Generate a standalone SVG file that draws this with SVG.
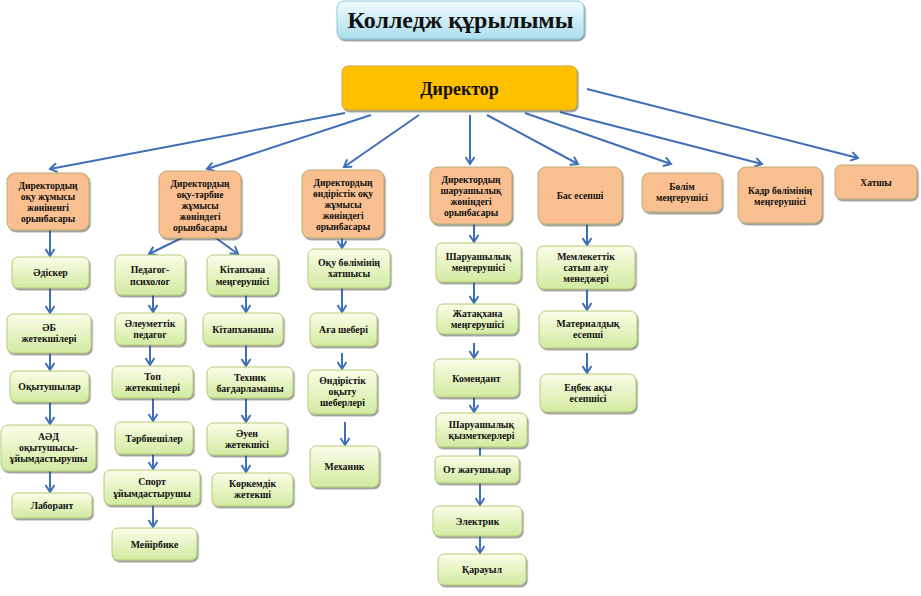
<svg xmlns="http://www.w3.org/2000/svg" width="921" height="596" viewBox="0 0 921 596">
<defs>
<linearGradient id="gGreen" x1="0" y1="0" x2="0" y2="1">
<stop offset="0" stop-color="#fbfde8"/>
<stop offset="1" stop-color="#d2eaa0"/>
</linearGradient>
<linearGradient id="gBlue" x1="0" y1="0" x2="0" y2="1">
<stop offset="0" stop-color="#f2fbfd"/>
<stop offset="1" stop-color="#abdeee"/>
</linearGradient>
<filter id="sh" x="-10%" y="-10%" width="130%" height="140%">
<feDropShadow dx="1.2" dy="1.8" stdDeviation="0.5" flood-color="#444" flood-opacity="0.55"/>
</filter>
<marker id="ah" markerWidth="12" markerHeight="12" refX="8" refY="5" orient="auto" markerUnits="userSpaceOnUse">
<path d="M1,0.5 L8,5 L1,9.5" fill="none" stroke="#3e6fb6" stroke-width="2"/>
</marker>
<style>
.g{fill:url(#gGreen);stroke:#b4ca78;stroke-width:1;filter:url(#sh)}
.o{fill:#f9bf90;stroke:#b9ae74;stroke-width:1;filter:url(#sh)}
.t{font-family:"Liberation Serif","DejaVu Serif",serif;font-weight:bold;font-size:9.8px;fill:#111;text-anchor:middle}
.s{font-family:"Liberation Serif","DejaVu Serif",serif;font-weight:bold;font-size:9.5px;fill:#111;text-anchor:middle}
#conn line{stroke:#3e6fb6;stroke-width:2;marker-end:url(#ah)}
</style>
</defs>
<rect width="921" height="596" fill="#ffffff"/>

<g id="conn">
<line x1="345" y1="113" x2="50" y2="169"/>
<line x1="371" y1="115" x2="207" y2="169"/>
<line x1="419" y1="115" x2="344" y2="167"/>
<line x1="470" y1="115" x2="470" y2="164"/>
<line x1="487" y1="115" x2="578" y2="164"/>
<line x1="525" y1="113" x2="671" y2="164"/>
<line x1="560" y1="112" x2="762" y2="164"/>
<line x1="587" y1="89" x2="858" y2="158"/>

<line x1="50" y1="230" x2="50" y2="256"/>
<line x1="50" y1="288" x2="50" y2="313"/>
<line x1="50" y1="353" x2="50" y2="370"/>
<line x1="50" y1="402" x2="50" y2="424"/>
<line x1="50" y1="471" x2="50" y2="492"/>

<line x1="200" y1="229" x2="149" y2="254"/>
<line x1="202" y1="228" x2="238" y2="254"/>
<line x1="153" y1="295" x2="153" y2="312"/>
<line x1="150" y1="345" x2="150" y2="365"/>
<line x1="153" y1="398" x2="153" y2="421"/>
<line x1="153" y1="454" x2="153" y2="469"/>
<line x1="153" y1="505" x2="153" y2="527"/>

<line x1="246" y1="295" x2="246" y2="312"/>
<line x1="246" y1="345" x2="246" y2="366"/>
<line x1="246" y1="398" x2="246" y2="422"/>
<line x1="246" y1="455" x2="246" y2="472"/>

<line x1="342" y1="234" x2="342" y2="248"/>
<line x1="342" y1="288" x2="342" y2="312"/>
<line x1="342" y1="353" x2="342" y2="369"/>
<line x1="345" y1="422" x2="345" y2="445"/>

<line x1="474" y1="224" x2="474" y2="242"/>
<line x1="474" y1="282" x2="474" y2="303"/>
<line x1="474" y1="343" x2="474" y2="358"/>
<line x1="474" y1="397" x2="474" y2="412"/>
<line x1="480" y1="447" x2="480" y2="463"/>
<line x1="480" y1="483" x2="480" y2="505"/>
<line x1="480" y1="536" x2="480" y2="553"/>

<line x1="587" y1="224" x2="587" y2="245"/>
<line x1="587" y1="289" x2="587" y2="310"/>
<line x1="587" y1="353" x2="587" y2="373"/>
</g>

<g id="title">
<rect x="337" y="1" width="247" height="38" rx="7" fill="url(#gBlue)" stroke="#86c7dc" stroke-width="1" filter="url(#sh)"/>
<text x="460.5" y="28" font-family="Liberation Serif, serif" font-weight="bold" font-size="24" text-anchor="middle" fill="#111">Колледж құрылымы</text>
</g>

<g id="director">
<rect x="342" y="66" width="235" height="44" rx="6" fill="#ffc000" stroke="#c8a640" stroke-width="1" filter="url(#sh)"/>
<text x="459.5" y="95" font-family="Liberation Serif, serif" font-weight="bold" font-size="18" text-anchor="middle" fill="#111">Директор</text>
</g>

<g id="dep1"><rect class="o" x="7" y="173" width="82" height="57" rx="8"/>
<text class="s" x="48" y="189">Директордың</text><text class="s" x="48" y="200">оқу жұмысы</text><text class="s" x="48" y="211">жөніненгі</text><text class="s" x="48" y="222">орынбасары</text></g>

<g id="dep2"><rect class="o" x="159" y="171" width="82" height="67" rx="8"/>
<text class="s" x="200" y="187">Директордың</text><text class="s" x="200" y="198">оқу-тәрбие</text><text class="s" x="200" y="209">жұмысы</text><text class="s" x="200" y="220">жөніндегі</text><text class="s" x="200" y="231">орынбасары</text></g>

<g id="dep3"><rect class="o" x="302" y="170" width="82" height="68" rx="8"/>
<text class="s" x="343" y="186">Директордың</text><text class="s" x="343" y="197">өндірістік оқу</text><text class="s" x="343" y="208">жұмысы</text><text class="s" x="343" y="219">жөніндегі</text><text class="s" x="343" y="230">орынбасары</text></g>

<g id="dep4"><rect class="o" x="430" y="167" width="82" height="57" rx="8"/>
<text class="s" x="471" y="183">Директордың</text><text class="s" x="471" y="194">шаруашылық</text><text class="s" x="471" y="205">жөніндегі</text><text class="s" x="471" y="216">орынбасары</text></g>

<g id="dep5"><rect class="o" x="538" y="167" width="84" height="57" rx="8"/>
<text class="s" x="580" y="199">Бас есепші</text></g>

<g id="dep6"><rect class="o" x="642" y="173" width="80" height="39" rx="7"/>
<text class="s" x="682" y="190">Бөлім</text><text class="s" x="682" y="201">меңгерушісі</text></g>

<g id="dep7"><rect class="o" x="738" y="167" width="84" height="56" rx="8"/>
<text class="s" x="780" y="194">Кадр бөлімінің</text><text class="s" x="780" y="205">меңгерушісі</text></g>

<g id="dep8"><rect class="o" x="835" y="165" width="82" height="34" rx="6"/>
<text class="s" x="876" y="186">Хатшы</text></g>

<!-- column 1 -->
<g id="n_adisker"><rect class="g" x="12" y="257" width="77" height="31" rx="6"/><text class="t" x="50.5" y="276">Әдіскер</text></g>
<g id="n_ab"><rect class="g" x="7" y="314" width="84" height="39" rx="6"/><text class="t" x="49" y="331">ӘБ</text><text class="t" x="49" y="342">жетекшілері</text></g>
<g id="n_okytushylar"><rect class="g" x="10" y="371" width="79" height="31" rx="6"/><text class="t" x="49.5" y="390">Оқытушылар</text></g>
<g id="n_aad"><rect class="g" x="1" y="425" width="95" height="46" rx="7"/><text class="t" x="48.5" y="440">АӘД</text><text class="t" x="48.5" y="451">оқытушысы-</text><text class="t" x="48.5" y="462">ұйымдастырушы</text></g>
<g id="n_laborant"><rect class="g" x="12" y="493" width="80" height="25" rx="5"/><text class="t" x="52" y="509">Лаборант</text></g>

<!-- column 2 -->
<g id="n_pedpsy"><rect class="g" x="115" y="255" width="70" height="40" rx="6"/><text class="t" x="150" y="273">Педагог-</text><text class="t" x="150" y="285">психолог</text></g>
<g id="n_aleum"><rect class="g" x="115" y="313" width="70" height="32" rx="6"/><text class="t" x="150" y="327">Әлеуметтік</text><text class="t" x="150" y="338">педагог</text></g>
<g id="n_top"><rect class="g" x="112" y="366" width="81" height="32" rx="6"/><text class="t" x="152.5" y="380">Топ</text><text class="t" x="152.5" y="391">жетекшілері</text></g>
<g id="n_tarbie"><rect class="g" x="115" y="422" width="78" height="32" rx="6"/><text class="t" x="154" y="442">Тәрбиешілер</text></g>
<g id="n_sport"><rect class="g" x="104" y="470" width="96" height="35" rx="6"/><text class="t" x="152" y="485">Спорт</text><text class="t" x="152" y="497">ұйымдастырушы</text></g>
<g id="n_meyir"><rect class="g" x="112" y="528" width="85" height="32" rx="6"/><text class="t" x="154.5" y="548">Мейірбике</text></g>

<!-- column 3 -->
<g id="n_kitmeng"><rect class="g" x="207" y="255" width="71" height="40" rx="6"/><text class="t" x="242.5" y="273">Кітапхана</text><text class="t" x="242.5" y="285">меңгерушісі</text></g>
<g id="n_kitap"><rect class="g" x="203" y="313" width="80" height="32" rx="6"/><text class="t" x="243" y="333">Кітапханашы</text></g>
<g id="n_tekhnik"><rect class="g" x="207" y="367" width="86" height="31" rx="6"/><text class="t" x="250" y="381">Техник</text><text class="t" x="250" y="392">бағдарламашы</text></g>
<g id="n_auen"><rect class="g" x="207" y="423" width="80" height="32" rx="6"/><text class="t" x="247" y="437">Әуен</text><text class="t" x="247" y="448">жетекшісі</text></g>
<g id="n_korkem"><rect class="g" x="212" y="473" width="81" height="33" rx="6"/><text class="t" x="252.5" y="487">Көркемдік</text><text class="t" x="252.5" y="498">жетекші</text></g>

<!-- column 4 -->
<g id="n_okubolim"><rect class="g" x="308" y="249" width="82" height="39" rx="6"/><text class="t" x="349" y="266">Оқу бөлімінің</text><text class="t" x="349" y="277">хатшысы</text></g>
<g id="n_aga"><rect class="g" x="310" y="313" width="67" height="33" rx="6"/><text class="t" x="343.5" y="333">Аға шебері</text></g>
<g id="n_ondiris"><rect class="g" x="308" y="370" width="69" height="44" rx="6"/><text class="t" x="342.5" y="384">Өндірістік</text><text class="t" x="342.5" y="395">оқыту</text><text class="t" x="342.5" y="406">шеберлері</text></g>
<g id="n_mekhanik"><rect class="g" x="310" y="446" width="69" height="41" rx="6"/><text class="t" x="344.5" y="470">Механик</text></g>

<!-- column 5 -->
<g id="n_sharmeng"><rect class="g" x="436" y="243" width="85" height="39" rx="6"/><text class="t" x="478.5" y="260">Шаруашылық</text><text class="t" x="478.5" y="271">меңгерушісі</text></g>
<g id="n_zhatak"><rect class="g" x="437" y="304" width="81" height="30" rx="6"/><text class="t" x="477.5" y="317">Жатақхана</text><text class="t" x="477.5" y="328">меңгерушісі</text></g>
<g id="n_komendant"><rect class="g" x="434" y="359" width="85" height="38" rx="6"/><text class="t" x="476.5" y="382">Комендант</text></g>
<g id="n_sharkyz"><rect class="g" x="436" y="413" width="91" height="34" rx="6"/><text class="t" x="481.5" y="428">Шаруашылық</text><text class="t" x="481.5" y="439">қызметкерлері</text></g>
<g id="n_ot"><rect class="g" x="435" y="456" width="84" height="27" rx="5"/><text class="t" x="477" y="473">От жағушылар</text></g>
<g id="n_elektrik"><rect class="g" x="433" y="506" width="89" height="30" rx="6"/><text class="t" x="477.5" y="525">Электрик</text></g>
<g id="n_karauyl"><rect class="g" x="438" y="554" width="88" height="31" rx="6"/><text class="t" x="482" y="573">Қарауыл</text></g>

<!-- column 6 -->
<g id="n_memlek"><rect class="g" x="537" y="246" width="98" height="43" rx="7"/><text class="t" x="586" y="260">Мемлекеттік</text><text class="t" x="586" y="271">сатып алу</text><text class="t" x="586" y="282">менеджері</text></g>
<g id="n_material"><rect class="g" x="539" y="311" width="98" height="37" rx="7"/><text class="t" x="588" y="327">Материалдық</text><text class="t" x="588" y="338">есепші</text></g>
<g id="n_enbek"><rect class="g" x="540" y="374" width="96" height="38" rx="7"/><text class="t" x="588" y="391">Еңбек ақы</text><text class="t" x="588" y="402">есепшісі</text></g>
</svg>
